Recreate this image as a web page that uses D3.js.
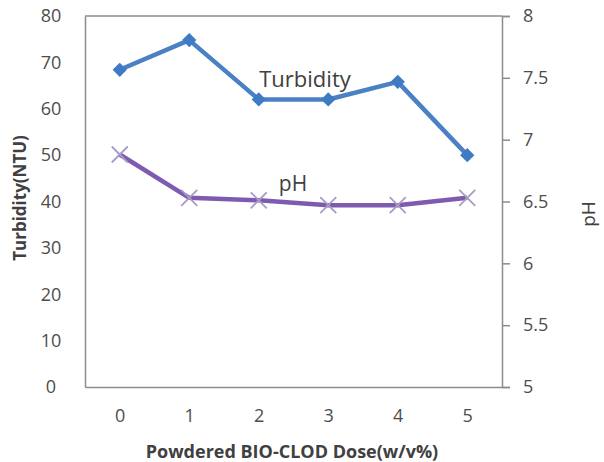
<!DOCTYPE html>
<html><head><meta charset="utf-8">
<script src="https://cdn.jsdelivr.net/npm/d3@7"></script>
<style>html,body{margin:0;padding:0;background:#fff;}svg{display:block;}</style>
</head><body>
<svg id="c" width="604" height="462"></svg>
<script>
const doses = ["0","1","2","3","4","5"];
const turbidity = [68.4, 74.8, 62, 62, 65.8, 50];
const ph = [6.88, 6.53, 6.51, 6.47, 6.47, 6.53];
const leftTicks = [0,10,20,30,40,50,60,70,80];
const rightTicks = [5,5.5,6,6.5,7,7.5,8];

const svg = d3.select("#c");
const L = 85, R = 502, T = 16, B = 387;
const font = "'Open Sans', 'Liberation Sans', sans-serif";
const x = d3.scalePoint().domain(doses).range([L, R]).padding(0.5);
const yL = d3.scaleLinear().domain([0, 80]).range([B, T]);
const yR = d3.scaleLinear().domain([5, 8]).range([B, T]);
const axisCol = "#8c8c8c", textCol = "#4d4d4d";

// axes
const gl = svg.append("g").attr("transform", `translate(${L},0)`)
  .call(d3.axisLeft(yL).tickValues(leftTicks).tickSize(0).tickPadding(22).tickFormat(d3.format("d")));
const gr = svg.append("g").attr("transform", `translate(${R},0)`)
  .call(d3.axisRight(yR).tickValues(rightTicks).tickSize(8).tickPadding(13).tickFormat(d => d3.format("")(d)));
const gb = svg.append("g").attr("transform", `translate(0,${B})`)
  .call(d3.axisBottom(x).tickSize(0).tickPadding(22));
svg.append("line").attr("x1", L).attr("x2", R).attr("y1", T).attr("y2", T).attr("stroke", axisCol).attr("stroke-width", 1.5);
[gl, gr, gb].forEach(g => {
  g.select(".domain").attr("stroke", axisCol).attr("stroke-width", 1.5);
  g.selectAll(".tick line").attr("stroke", axisCol).attr("stroke-width", 1.5);
  g.selectAll("text").attr("fill", textCol).style("font-family", font).style("font-size", "18px");
});
gl.selectAll("text").attr("text-anchor", "middle").attr("dx", "-12");
gr.selectAll("text").attr("text-anchor", "start");

// lines
const lineT = d3.line().x((d, i) => x(doses[i])).y(d => yL(d));
const lineP = d3.line().x((d, i) => x(doses[i])).y(d => yR(d));
svg.append("path").datum(turbidity).attr("d", lineT).attr("fill", "none")
  .attr("stroke", "#4a80c4").attr("stroke-width", 4.5).attr("stroke-linejoin", "round");
svg.append("path").datum(ph).attr("d", lineP).attr("fill", "none")
  .attr("stroke", "#7e5ab0").attr("stroke-width", 4.5).attr("stroke-linejoin", "round");

// markers
svg.selectAll(".dm").data(turbidity).enter().append("path")
  .attr("transform", (d, i) => `translate(${x(doses[i])},${yL(d)})`)
  .attr("d", d3.symbol().type(d3.symbolDiamond2).size(130))
  .attr("fill", "#3f7bc4");
svg.selectAll(".xm").data(ph).enter().append("path")
  .attr("transform", (d, i) => `translate(${x(doses[i])},${yR(d)})`)
  .attr("d", "M-8,-8L8,8M-8,8L8,-8")
  .attr("stroke", "#a99cc4").attr("stroke-width", 1.8).attr("fill", "none");

// data labels
svg.append("text").attr("x", 305).attr("y", 87).attr("text-anchor", "middle")
  .style("font-family", font).style("font-size", "22px").attr("fill", "#404040").text("Turbidity");
svg.append("text").attr("x", 293).attr("y", 191).attr("text-anchor", "middle")
  .style("font-family", font).style("font-size", "21px").attr("fill", "#404040").text("pH");

// axis titles
svg.append("text").attr("transform", "translate(26,198) rotate(-90)").attr("text-anchor", "middle")
  .style("font-family", font).style("font-size", "17px").style("font-weight", "bold").attr("fill", "#404040").text("Turbidity(NTU)");
svg.append("text").attr("transform", "translate(595,214) rotate(-90)").attr("text-anchor", "middle")
  .style("font-family", font).style("font-size", "19px").attr("fill", "#404040").text("pH");
svg.append("text").attr("x", 292).attr("y", 458).attr("text-anchor", "middle")
  .style("font-family", font).style("font-size", "18px").style("font-weight", "bold").attr("fill", "#404040").text("Powdered BIO-CLOD Dose(w/v%)");
</script>
</body></html>
